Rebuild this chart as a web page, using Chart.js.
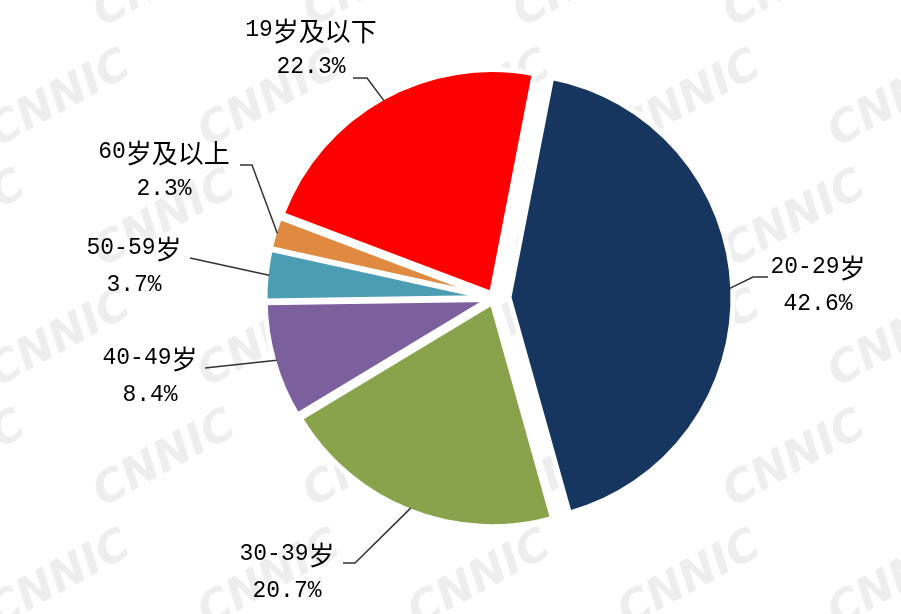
<!DOCTYPE html>
<html>
<head>
<meta charset="utf-8">
<script src="https://cdn.jsdelivr.net/npm/chart.js@4"></script>
<style>
  html, body { margin: 0; padding: 0; background: #fff; }
  #wrap { width: 901px; height: 614px; }
</style>
</head>
<body>
<div id="wrap"><canvas id="ageChart"></canvas></div>
<script>
// age groups, clockwise from just right of 12 o'clock
const ageGroups = ["20-29岁", "30-39岁", "40-49岁", "50-59岁", "60岁及以上", "19岁及以下"];
const shares = [42.6, 20.7, 8.4, 3.7, 2.3, 22.3];
const shareLabels = ["42.6%", "20.7%", "8.4%", "3.7%", "2.3%", "22.3%"];

const sliceColors = ["#17365f", "#88a34b", "#7c5f9d", "#4a9db3", "#df8a40", "#ff0000"];
// how far each slice is pulled out of the pie (px)
const explode = [15, 5, 5, 5, 5, 5];

// label text position (line 1 centre) relative to pie centre
const labelPos = [[324, -31], [-207, 256], [-344, 60], [-360, -50], [-330, -146], [-183, -268]];
// leader line end relative to pie centre, and horizontal elbow length
const leaderEnd = [[274, -21], [-151, 265], [-289, 70], [-304, -40], [-254, -133], [-141, -220]];
const leaderElbow = [-15, 12, 0, 0, 12, 14];

const LATIN_FONT = '23px "Liberation Mono", monospace';
const CJK_FONT = '26px "Noto Sans CJK SC", sans-serif';

function drawMixed(ctx, text, cx, cy) {
    const runs = text.match(/[\u4e00-\u9fff]+|[^\u4e00-\u9fff]+/g);
    const parts = runs.map(r => {
        const cjk = /[\u4e00-\u9fff]/.test(r);
        ctx.font = cjk ? CJK_FONT : LATIN_FONT;
        return { r, cjk, w: ctx.measureText(r).width };
    });
    const total = parts.reduce((s, p) => s + p.w, 0);
    let x = cx - total / 2;
    ctx.textAlign = "left";
    ctx.textBaseline = "middle";
    parts.forEach(p => {
        ctx.font = p.cjk ? CJK_FONT : LATIN_FONT;
        ctx.fillText(p.r, x, cy + (p.cjk ? 1 : 0));
        x += p.w;
    });
}

const watermark = {
    id: "watermark",
    beforeDraw(chart) {
        const ctx = chart.ctx;
        ctx.save();
        ctx.fillStyle = "#eeeeee";
        ctx.font = 'italic bold 44px "DejaVu Sans", sans-serif';
        ctx.textAlign = "center";
        ctx.textBaseline = "middle";
        for (let row = -1; row < 6; row++) {
            for (let col = -1; col < 6; col++) {
                const x = col * 210 + (row % 2 ? 105 : 0) + 60;
                const y = row * 120 + 100;
                ctx.save();
                ctx.translate(x, y);
                ctx.rotate(-0.5);
                ctx.fillText("CNNIC", 0, 0);
                ctx.restore();
            }
        }
        ctx.restore();
    }
};

// draw the library's arcs, each pulled out along its bisector
const explodedSlices = {
    id: "explodedSlices",
    beforeDatasetDraw(chart, args) {
        const ctx = chart.ctx;
        args.meta.data.forEach((arc, i) => {
            const mid = (arc.startAngle + arc.endAngle) / 2;
            ctx.save();
            ctx.translate(Math.cos(mid) * explode[i], Math.sin(mid) * explode[i]);
            arc.draw(ctx);
            ctx.restore();
        });
        return false;
    }
};

const sliceLabels = {
    id: "sliceLabels",
    afterDatasetsDraw(chart) {
        const ctx = chart.ctx;
        const meta = chart.getDatasetMeta(0);
        ctx.save();
        meta.data.forEach((arc, i) => {
            const p = arc.getProps(["x", "y", "startAngle", "endAngle", "outerRadius"], true);
            const mid = (p.startAngle + p.endAngle) / 2;
            const r = p.outerRadius + explode[i] - 3;
            const cx = p.x, cy = p.y;
            const ax = cx + Math.cos(mid) * r;
            const ay = cy + Math.sin(mid) * r;
            const ex = cx + leaderEnd[i][0], ey = cy + leaderEnd[i][1];

            ctx.strokeStyle = "#333";
            ctx.lineWidth = 1.5;
            ctx.beginPath();
            ctx.moveTo(ax, ay);
            ctx.lineTo(ex + leaderElbow[i], ey);
            ctx.lineTo(ex, ey);
            ctx.stroke();

            ctx.fillStyle = "#000";
            const tx = cx + labelPos[i][0], ty = cy + labelPos[i][1];
            drawMixed(ctx, ageGroups[i], tx, ty);
            drawMixed(ctx, shareLabels[i], tx, ty + 37);
        });
        ctx.restore();
    }
};

const ctx = document.getElementById("ageChart").getContext("2d");
new Chart(ctx, {
    type: "pie",
    data: {
        labels: ageGroups,
        datasets: [{
            data: shares,
            backgroundColor: sliceColors,
            borderColor: "#ffffff",
            borderWidth: 5,
            radius: 224
        }]
    },
    options: {
        responsive: true,
        maintainAspectRatio: false,
        animation: false,
        rotation: 11,
        layout: { padding: { left: 87, right: 0, top: 0, bottom: 18 } },
        plugins: {
            legend: { display: false },
            tooltip: { enabled: false }
        }
    },
    plugins: [watermark, explodedSlices, sliceLabels]
});
</script>
</body>
</html>
